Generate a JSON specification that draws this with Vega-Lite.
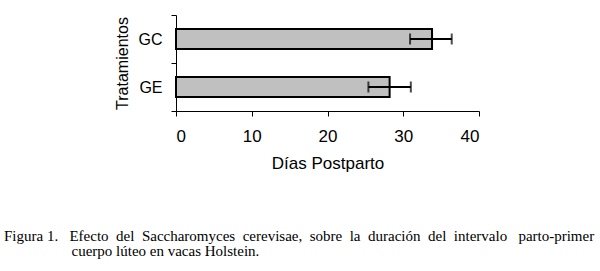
{
  "$schema": "https://vega.github.io/schema/vega-lite/v6.json",
  "autosize": {"type": "none"},
  "padding": {"left": 176, "top": 15, "right": 121, "bottom": 160},
  "width": 303,
  "height": 96,
  "background": "white",
  "config": {
    "view": {"stroke": null},
    "font": "Liberation Sans"
  },
  "title": {
    "text": ["Figura 1.\u00a0\u00a0 Efecto\u00a0 del\u00a0 Saccharomyces\u00a0 cerevisae,\u00a0 sobre\u00a0 la\u00a0 duración\u00a0 del\u00a0 intervalo\u00a0\u00a0 parto-primer", "\u200b\u00a0\u00a0\u00a0\u00a0\u00a0\u00a0\u00a0\u00a0\u00a0\u00a0\u00a0\u00a0\u00a0\u00a0\u00a0\u00a0\u00a0\u00a0cuerpo lúteo en vacas Holstein."],
    "orient": "bottom",
    "anchor": "start",
    "frame": "group",
    "dx": -172,
    "offset": 58,
    "font": "Liberation Serif",
    "fontSize": 15,
    "fontWeight": "normal",
    "color": "black",
    "lineHeight": 15
  },
  "data": {
    "values": [
      {"grupo": "GC", "dias": 33.8, "lo": 30.9, "hi": 36.4},
      {"grupo": "GE", "dias": 28.2, "lo": 25.4, "hi": 31.0}
    ]
  },
  "encoding": {
    "y": {
      "field": "grupo",
      "type": "nominal",
      "sort": ["GC", "GE"],
      "scale": {"paddingInner": 0, "paddingOuter": 0},
      "axis": {
        "title": "Tratamientos",
        "titleFont": "Liberation Sans",
        "titleFontSize": 16,
        "titleFontWeight": "normal",
        "titleColor": "black",
        "titlePadding": 8,
        "labelFont": "Liberation Sans",
        "labelFontSize": 16,
        "labelColor": "black",
        "labelPadding": 9,
        "tickBand": "extent",
        "tickSize": 5,
        "tickColor": "black",
        "domainColor": "black",
        "grid": false
      }
    }
  },
  "layer": [
    {
      "mark": {"type": "bar", "fill": "#c0c0c0", "stroke": "black", "strokeWidth": 2, "size": 20},
      "encoding": {
        "x": {
          "field": "dias",
          "type": "quantitative",
          "scale": {"domain": [0, 40], "nice": false},
          "axis": {
            "title": "Días Postparto",
            "values": [0, 10, 20, 30, 40],
            "titleFont": "Liberation Sans",
            "titleFontSize": 17,
            "titleFontWeight": "normal",
            "titleColor": "black",
            "titlePadding": 11,
            "labelFont": "Liberation Sans",
            "labelFontSize": 17,
            "labelColor": "black",
            "labelPadding": 12,
            "tickSize": 5,
            "tickColor": "black",
            "domainColor": "black",
            "grid": false
          }
        }
      }
    },
    {
      "mark": {"type": "rule", "stroke": "black", "strokeWidth": 2},
      "encoding": {
        "x": {"field": "lo", "type": "quantitative"},
        "x2": {"field": "hi"}
      }
    },
    {
      "mark": {"type": "tick", "color": "black", "thickness": 2, "size": 11},
      "encoding": {
        "x": {"field": "lo", "type": "quantitative"}
      }
    },
    {
      "mark": {"type": "tick", "color": "black", "thickness": 2, "size": 11},
      "encoding": {
        "x": {"field": "hi", "type": "quantitative"}
      }
    }
  ]
}
